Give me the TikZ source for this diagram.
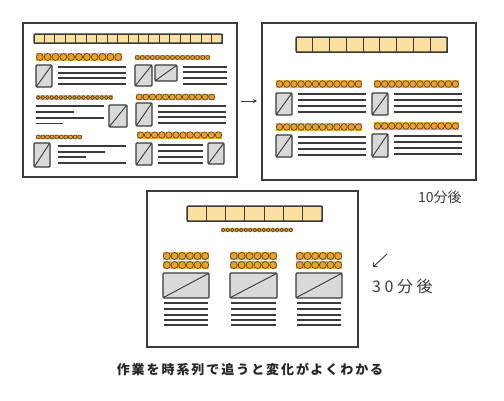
\documentclass[tikz,border=0pt]{standalone}
\usepackage{fontspec}
\newfontfamily\cjk{Noto Sans CJK JP}
\newfontfamily\cjkwide[LetterSpace=22]{Noto Sans CJK JP}
\newfontfamily\cjkcap[LetterSpace=15]{Noto Sans CJK JP}
\usetikzlibrary{arrows.meta}
\definecolor{ink}{HTML}{3A3A3A}
\definecolor{barfill}{HTML}{FBE0A0}
\definecolor{band}{HTML}{F2B540}
\definecolor{dotfill}{HTML}{F0A02A}
\definecolor{imgfill}{HTML}{D9D9D9}
\tikzset{
  panel/.style={draw=ink, line width=1.3pt, fill=white},
  barcell/.style={draw=ink, line width=0.9pt, fill=barfill},
  dotline/.style={draw=ink!85!brown, line width=0.65pt, fill=dotfill},
  imgstyle/.style={draw=ink, line width=1.1pt, fill=imgfill, rounded corners=1pt},
  txtline/.style={draw=ink, line width=1.1pt},
  note/.style={inner sep=0pt, anchor=west, text=ink, font=\cjk\fontsize{14}{14}\selectfont},
}
\newcommand\dotrow[5]{% x1 x2 y n d
  \fill[band] (#1,#3-#5/2) rectangle (#2,#3+#5/2);
  \pgfmathsetmacro\dstep{(#2-#1-#5)/(#4-1)}
  \pgfmathsetmacro\rr{#5/2-0.3}
  \pgfmathtruncatemacro\nlast{#4-1}
  \foreach \k in {0,...,\nlast} \draw[dotline] ({#1+#5/2+\k*\dstep},#3) circle[radius=\rr pt];
}
\newcommand\imgbox[4]{% x1 y1 x2 y2
  \draw[imgstyle] (#1,#2) rectangle (#3,#4);
  \draw[ink, line width=0.9pt] (#1+0.5,#4-0.5) -- (#3-0.5,#2+0.5);
}
\newcommand\tlines[3]{% x1 x2 ylist
  \foreach \yy in {#3} \draw[txtline] (#1,\yy) -- (#2,\yy);
}
\newcommand\cellbar[5]{% x1 y1 x2 y2 n
  \pgfmathsetmacro\cw{(#3-#1)/#5}
  \foreach \k in {1,...,#5} \draw[barcell] ({#1+(\k-1)*\cw},#2) rectangle ({#1+\k*\cw},#4);
  \draw[ink, line width=1.1pt, rounded corners=1pt] (#1,#2) rectangle (#3,#4);
}
\begin{document}
\begin{tikzpicture}[x=1pt,y=-1pt]
\useasboundingbox (0,0) rectangle (504,400);
% ---------- panel 1 ----------
\draw[panel] (23,23) rectangle (237,177);
\cellbar{34}{34}{222}{43}{18}
% L1
\dotrow{36}{122}{57}{11}{7.6}
\imgbox{36}{65}{52}{87}
\tlines{58}{126}{67,73,78,84}
% R1
\dotrow{135}{210}{57.5}{15}{4.6}
\imgbox{135}{65}{152}{86}
\imgbox{155}{65}{177}{81}
\tlines{183}{227}{67,72,78,84}
% L2
\dotrow{36}{113}{97.5}{17}{4.5}
\draw[txtline] (36,106) -- (104,106);
\draw[txtline] (36,112) -- (74,112);
\draw[txtline] (36,118) -- (104,118);
\draw[txtline] (36,123.5) -- (63,123.5);
\imgbox{109}{105}{127}{127}
% R2
\dotrow{136}{215}{97}{12}{6.6}
\imgbox{136}{103}{152}{126}
\tlines{158}{226}{106,112,117,123}
% L3
\dotrow{36}{82}{137}{10}{4.6}
\imgbox{34}{143}{50}{167}
\draw[txtline] (58,146) -- (126,146);
\draw[txtline] (58,152) -- (105,152);
\draw[txtline] (58,157) -- (86,157);
\draw[txtline] (58,163) -- (126,163);
% R3
\dotrow{137}{222}{135}{12}{7}
\imgbox{136}{143}{152}{165}
\tlines{158}{203}{145,151,157,163}
\imgbox{208}{143}{224}{164}
% arrow 1 -> 2
\coordinate (a1s) at (241,101);
\coordinate (a1e) at (257,101);
\draw[ink, line width=0.9pt, -{Stealth[length=4pt,width=4pt]}] (a1s) -- (a1e);
% ---------- panel 2 ----------
\draw[panel] (262,23) rectangle (476,180);
\cellbar{296}{37}{447}{52}{9}
\dotrow{276}{362}{84}{12}{7.2}
\imgbox{276}{93}{292}{115}
\tlines{298}{366}{94,100,106,112}
\dotrow{374}{459}{84}{12}{7.2}
\imgbox{372}{93}{388}{115}
\tlines{394}{462}{94,100,106,112}
\dotrow{276}{362}{127}{12}{7.2}
\imgbox{276}{135}{292}{157}
\tlines{298}{366}{137,143,149,155}
\dotrow{374}{459}{126}{12}{7.2}
\imgbox{372}{134}{388}{157}
\tlines{394}{462}{136,142,148,154}
\node[note] (t10) at (418,197) {10分後};
% ---------- panel 3 ----------
\draw[panel] (147,191) rectangle (358,347);
\cellbar{187}{206}{322}{221}{7}
\dotrow{221}{293}{230}{16}{4.5}
\foreach \xa/\xb in {163/209, 230/277, 296/342}{
  \dotrow{\xa}{\xb}{256}{6}{7.7}
  \dotrow{\xa}{\xb}{265}{6}{7.7}
  \imgbox{\xa}{273}{\xb}{298}
  \tlines{\xa+1}{\xb-1}{303,309,315,320,325}
}
\coordinate (a2s) at (387,254);
\coordinate (a2e) at (373,267);
\draw[ink, line width=0.9pt, -{Straight Barb[length=3pt]}] (a2s) -- (a2e);
\node[note, font=\cjkwide\fontsize{16}{16}\selectfont] (t30) at (372,286) {30分後};
% ---------- caption ----------
\node[inner sep=0pt, text=black!85, font=\cjkcap\bfseries\fontsize{13}{13}\selectfont] (cap) at (250,369) {作業を時系列で追うと変化がよくわかる};
\end{tikzpicture}
\end{document}
